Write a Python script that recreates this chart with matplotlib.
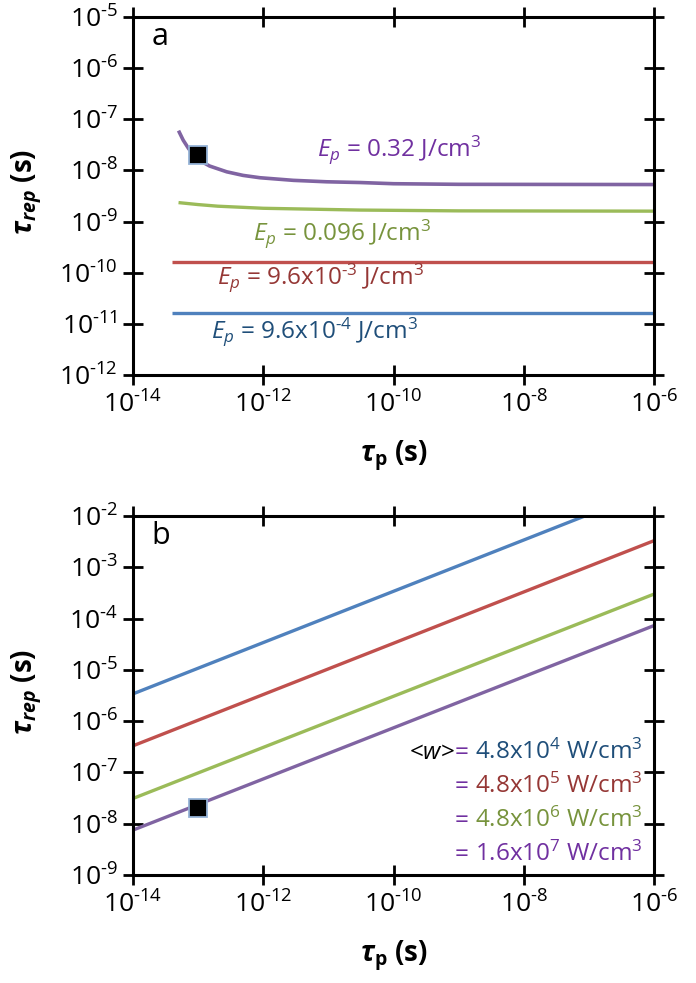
import matplotlib
matplotlib.use("Agg")
import matplotlib.pyplot as plt
import numpy as np

plt.rcParams['font.family'] = ['Open Sans', 'DejaVu Sans']
plt.rcParams['mathtext.fontset'] = 'custom'
plt.rcParams['mathtext.rm'] = 'Open Sans'
plt.rcParams['mathtext.it'] = 'Open Sans:italic'
plt.rcParams['mathtext.bf'] = 'Open Sans:bold'
plt.rcParams['mathtext.bfit'] = 'Open Sans:bold:italic'

# ---------------- data: panel a ----------------
a_purple_x = [5.0e-14, 5.9e-14, 7.1e-14, 8.4e-14, 1.07e-13, 1.5e-13, 2.75e-13, 4.9e-13,
              8.9e-13, 2.9e-12, 9.4e-12, 3.1e-11, 1e-10, 1e-9, 1e-6]
a_purple_y = [6.0e-8, 3.9e-8, 2.7e-8, 2.05e-8, 1.55e-8, 1.22e-8, 9.4e-9, 8.0e-9,
              7.2e-9, 6.4e-9, 6.0e-9, 5.8e-9, 5.5e-9, 5.35e-9, 5.3e-9]
a_green_x = [5e-14, 1e-13, 2e-13, 1e-12, 3e-11, 1e-9, 1e-6]
a_green_y = [2.35e-9, 2.15e-9, 2.0e-9, 1.82e-9, 1.68e-9, 1.62e-9, 1.6e-9]
a_red_x = [4e-14, 1e-6]
a_red_y = [1.64e-10, 1.64e-10]
a_blue_x = [4e-14, 1e-6]
a_blue_y = [1.6e-11, 1.6e-11]
a_labels = [r'$\mathit{E_p}$ = 0.32 J/cm$^{3}$',
            r'$\mathit{E_p}$ = 0.096 J/cm$^{3}$',
            r'$\mathit{E_p}$ = 9.6x10$^{\text{-}3}$ J/cm$^{3}$',
            r'$\mathit{E_p}$ = 9.6x10$^{\text{-}4}$ J/cm$^{3}$']

# ---------------- data: panel b ----------------
b_x = [1e-14, 1e-6]
b_blue_y = [3.4e-6, 3.4e-2]
b_red_y = [3.3e-7, 3.3e-3]
b_green_y = [3.1e-8, 3.0e-4]
b_purple_y = [7.5e-9, 7.3e-5]
b_labels = [r'4.8x10$^{4}$ W/cm$^{3}$',
            r'4.8x10$^{5}$ W/cm$^{3}$',
            r'4.8x10$^{6}$ W/cm$^{3}$',
            r'1.6x10$^{7}$ W/cm$^{3}$']

marker_x = [1e-13]
marker_y = [2e-8]

x_tick_exps = [-14, -12, -10, -8, -6]

c_blue, c_red, c_green, c_purple = '#4F81BD', '#C0504D', '#9BBB59', '#8064A2'
t_blue, t_red, t_green, t_purple = '#1F4E79', '#953735', '#77933C', '#7030A0'

fig = plt.figure(figsize=(6.96, 9.83), dpi=100)
ax_a = fig.add_axes([0.1911, 0.6185, 0.7486, 0.3642])
ax_b = fig.add_axes([0.1911, 0.1099, 0.7486, 0.3652])


def style(ax, ylo_e, yhi_e):
    ax.set_xscale('log')
    ax.set_yscale('log')
    ax.set_xlim(10.0 ** x_tick_exps[0], 10.0 ** x_tick_exps[-1])
    ax.set_ylim(10.0 ** ylo_e, 10.0 ** yhi_e)
    ax.set_xticks([10.0 ** e for e in x_tick_exps])
    ax.set_xticklabels([r'10$^{\text{-}%d}$' % (-e) for e in x_tick_exps])
    yexps = list(range(ylo_e, yhi_e + 1))
    ax.set_yticks([10.0 ** e for e in yexps])
    ax.set_yticklabels([r'10$^{\text{-}%d}$' % (-e) for e in yexps])
    ax.minorticks_off()
    ax.tick_params(which='major', direction='inout', length=14, width=2.0,
                   top=True, right=True, labelsize=19)
    ax.tick_params(axis='y', pad=4)
    ax.tick_params(axis='x', pad=5)
    for s in ax.spines.values():
        s.set_linewidth(2.2)
    ax.set_xlabel(r'$\mathbfit{\tau}_{\mathbf{p}}$ (s)', fontsize=20, fontweight='bold')
    ax.xaxis.set_label_coords(0.5, -0.178)
    ax.set_ylabel(r'$\mathbfit{\tau}_{\mathbfit{rep}}$ (s)', fontsize=20, fontweight='bold')
    ax.yaxis.set_label_coords(-0.17, 0.51)


# panel a
style(ax_a, -12, -5)
ax_a.plot(a_purple_x, a_purple_y, color=c_purple, lw=2.6, solid_capstyle='butt')
ax_a.plot(a_green_x, a_green_y, color=c_green, lw=2.4, solid_capstyle='butt')
ax_a.plot(a_red_x, a_red_y, color=c_red, lw=2.4, solid_capstyle='butt')
ax_a.plot(a_blue_x, a_blue_y, color=c_blue, lw=2.4, solid_capstyle='butt')
ax_a.plot(marker_x, marker_y, 's', ms=12.5, mfc='black', mec='#95B3D7', mew=1.3)
ax_a.text(6.8e-12, 10 ** -7.71, a_labels[0], color=t_purple, fontsize=17.5, ha='left', va='baseline')
ax_a.text(6.9e-13, 10 ** -9.36, a_labels[1], color=t_green, fontsize=17.5, ha='left', va='baseline')
ax_a.text(1.93e-13, 10 ** -10.23, a_labels[2], color=t_red, fontsize=17.5, ha='left', va='baseline')
ax_a.text(1.55e-13, 10 ** -11.28, a_labels[3], color=t_blue, fontsize=17.5, ha='left', va='baseline')
ax_a.text(0.053, 0.943, 'a', transform=ax_a.transAxes, fontsize=22, ha='center', va='center')

# panel b
style(ax_b, -9, -2)
ax_b.plot(b_x, b_blue_y, color=c_blue, lw=2.4)
ax_b.plot(b_x, b_red_y, color=c_red, lw=2.4)
ax_b.plot(b_x, b_green_y, color=c_green, lw=2.4)
ax_b.plot(b_x, b_purple_y, color=c_purple, lw=2.4)
ax_b.plot(marker_x, marker_y, 's', ms=12.5, mfc='black', mec='#95B3D7', mew=1.3)
ax_b.text(0.053, 0.943, 'b', transform=ax_b.transAxes, fontsize=22, ha='center', va='center')

b_colors = [t_blue, t_red, t_green, t_purple]
b_ys = [1.8e-7, 4.0e-8, 8.5e-9, 1.9e-9]
xr = 6.8e-7
for lab, col, yv in zip(b_labels, b_colors, b_ys):
    t = ax_b.text(xr, yv, lab, color=col, fontsize=17.5, ha='right', va='baseline')
    eq = ax_b.annotate('= ', xy=(0, yv), xycoords=(t, 'data'), color=t_purple,
                       fontsize=17.5, ha='right', va='baseline')
    if col == t_blue:
        ax_b.annotate(r'<$\mathit{w}$>', xy=(0, yv), xycoords=(eq, 'data'), color='black',
                      fontsize=17.5, ha='right', va='baseline')

fig.savefig('out.png', dpi=100)
